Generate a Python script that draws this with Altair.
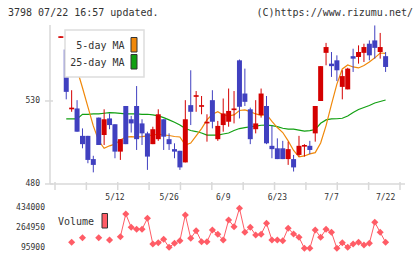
import altair as alt
import numpy as np
import pandas as pd

# Daily candles for code 3798, trading-day index 0..60
opens = [568, 561, 525, 525.5, 509, 509, 495, 520, 509.5, 519.5,
         516, 499.5, 527, 519, 527, 516.5, 510.5, 504, 507, 519,
         507, 501, 500, 493, 527.5, 532.5, 526.5, 516.5, 530.5, 507,
         515.5, 517.5, 524.5, 554.5, 534.5, 525, 513, 521.5, 527, 503,
         501.5, 501.5, 495, 495, 497.5, 502.5, 503, 510.5, 530, 559,
         552.5, 554.5, 538.5, 537, 557, 556.5, 559, 564.5, 566.5, 559.5,
         557]
highs = [569, 561, 536.5, 530.5, 513.5, 509, 497, 520, 525, 522.5,
         516, 507, 527, 521, 539, 519, 511.5, 514.5, 525, 519,
         510.5, 504.5, 500, 530.5, 548.5, 536, 533, 522, 536.5, 518,
         531.5, 537.5, 536, 555, 549.5, 526, 530.5, 537.5, 533, 515,
         507.5, 506, 505.5, 497.5, 509, 504, 506, 527, 551, 565,
         559.5, 557.5, 548.5, 550, 561.5, 563.5, 564.5, 566.5, 575.5, 571,
         559.5]
lows = [568, 531, 523.5, 511.5, 501.5, 492.5, 487, 503.5, 503.5, 513,
        495.5, 494.5, 504, 511, 500.5, 503.5, 488.5, 504, 506, 500.5,
        500.5, 495.5, 488.5, 493, 515.5, 523.5, 522, 505.5, 513.5, 506,
        511.5, 514.5, 516.5, 519.5, 527, 504, 510.5, 520, 504, 495.5,
        495, 495, 491.5, 487.5, 496.5, 496.5, 498, 505.5, 530, 551.5,
        544.5, 542, 531, 537, 547.5, 552.5, 553.5, 554.5, 555.5, 555.5,
        547.5]
closes = [569, 535.5, 526, 511.5, 504, 494.5, 491.5, 503.5, 519, 515.5,
          499.5, 507, 504, 516.5, 507, 510.5, 496.5, 513, 522, 508.5,
          504, 499.5, 490, 519, 523.5, 533.5, 527.5, 517.5, 517.5, 515,
          522.5, 524, 525.5, 526.5, 529.5, 507, 516.5, 534.5, 504.5, 501,
          495, 495, 501, 490, 503, 503.5, 500.5, 527, 551, 562.5,
          551, 548.5, 545, 549.5, 555.5, 559.5, 562.5, 557.5, 562, 562.5,
          550.5]

# Moving averages
ma5 = [None, 559.5, 557, 549, 538, 526.5, 515, 506, 501.5, 503,
       504, 506.5, 508.3, 508.5, 508.3, 508.5, 509, 509.5, 510, 509.5,
       509.2, 508.6, 508.3, 503.5, 504.7, 509, 513.4, 518.6, 522, 523.6,
       521.6, 521, 521.6, 524.3, 524.6, 523.6, 522.2, 521.3, 521.9, 517.7,
       514, 511, 506, 500.2, 496.3, 496.9, 498.1, 498.9, 504.7, 515.2,
       528, 540.2, 549.3, 551.7, 550.5, 549.9, 551.4, 553.5, 556, 558.9,
       558.7]
ma25 = [None, 519.2, 519.2, 519.2, 522, 522, 522.2, 522.2, 522.6, 523,
        522.8, 522.6, 522.3, 522.2, 522.2, 522, 522, 521.6, 521, 520,
        518.6, 517.2, 515.5, 513.4, 512.2, 511.6, 510.7, 509.5, 509.5, 509.5,
        510.1, 510.7, 512.2, 513.4, 514, 514.5, 514.9, 515.4, 515.5, 515.2,
        514.6, 513.6, 513.1, 513, 512.5, 511.9, 512.2, 512.8, 516.6, 518.6,
        519.2, 519.3, 519.6, 521, 523.1, 524.9, 526.1, 527.3, 528.8, 529.7,
        530.6]

# Volume (missing days left empty)
volume = [None, None, 146600, None, 185500, None, None, 185500, None, 166000,
          None, 194000, 385800, 273400, 256500, 256500, 349500, 132200, 143200, 172000,
          104400, 138200, 160100, 377400, 180400, 244700, 151700, 151700, 250600, 214200,
          166000, 335100, 278500, 434000, 231100, 273400, 208300, 214200, 307200, 166000,
          166000, 160100, 265000, 216800, 188900, 95900, 95900, 250600, 188900, 256500,
          231100, 95900, 143200, 104400, 132200, 146600, 123800, 138200, 315700, 231100,
          146600]

date_idx = [10, 20, 30, 40, 50, 60]
date_labels = ["5/12", "5/26", "6/9", "6/23", "7/7", "7/22"]
price_ticks = [480, 530]
vol_ticks = [434000, 264950, 95900]

title_left = "3798 07/22 16:57 updated."
title_right = "(C)https://www.rizumu.net/"

# ---- layout -------------------------------------------------------------
W, H = 355, 224
FONT = "DejaVu Sans Mono"
TXT = "#333333"
GRID = "#d9d9d9"
UP, DOWN = "#d40000", "#4040c0"
ORANGE, GREEN, VOLC = "#f0880a", "#12a012", "#ff5c66"

x_dom = [-1.077, 62.66]
price_dom = [440.84, 575.78]
vol_dom = [89983, 1983343]

xs = alt.Scale(domain=x_dom, nice=False, zero=False)
ps = alt.Scale(domain=price_dom, nice=False, zero=False)
vs = alt.Scale(domain=vol_dom, nice=False, zero=False)

n = len(opens)
df = pd.DataFrame({
    "i": np.arange(n), "open": opens, "high": highs, "low": lows, "close": closes,
    "ma5": ma5, "ma25": ma25, "vol": volume,
})
df["dir"] = np.where(df["close"] >= df["open"], "up", "down")

X = alt.X("i:Q", scale=xs, axis=None)
col = alt.Color("dir:N", scale=alt.Scale(domain=["up", "down"], range=[UP, DOWN]), legend=None)

ma5_line = alt.Chart(df).mark_line(color=ORANGE, strokeWidth=1.2).encode(
    x=X, y=alt.Y("ma5:Q", scale=ps, axis=None))
ma25_line = alt.Chart(df).mark_line(color=GREEN, strokeWidth=1.2).encode(
    x=X, y=alt.Y("ma25:Q", scale=ps, axis=None))

wicks = alt.Chart(df).mark_rule(strokeWidth=1).encode(
    x=X, y=alt.Y("low:Q", scale=ps, axis=None), y2="high:Q", color=col)
bodies = alt.Chart(df).mark_bar(size=5).encode(
    x=X, y=alt.Y("open:Q", scale=ps, axis=None), y2="close:Q", color=col)

vol_line = alt.Chart(df).mark_line(color=VOLC, strokeWidth=1,
                                   invalid="break-paths-show-domains").encode(
    x=X, y=alt.Y("vol:Q", scale=vs, axis=None))
vol_pts = alt.Chart(df).mark_point(shape="diamond", filled=True, size=50,
                                   color=VOLC, opacity=1).encode(
    x=X, y=alt.Y("vol:Q", scale=vs, axis=None))

# ---- axes -------------------------------------------------------------
ax_df = pd.DataFrame({"top": [price_dom[1]], "bottom": [price_ticks[0]]})
y_axis_line = alt.Chart(ax_df).mark_rule(color=GRID, strokeWidth=1.5).encode(
    x=alt.value(0), y=alt.Y("bottom:Q", scale=ps, axis=None), y2="top:Q")
x_axis_line = alt.Chart(ax_df).mark_rule(color=GRID, strokeWidth=1.5).encode(
    x=alt.value(0), x2=alt.value(W), y=alt.Y("bottom:Q", scale=ps, axis=None))

xtick_df = pd.DataFrame({"t": np.linspace(x_dom[0], x_dom[1], 12)})
x_ticks = alt.Chart(xtick_df).mark_rule(color=GRID, strokeWidth=1.5).encode(
    x=alt.X("t:Q", scale=xs, axis=None), y=alt.value(157), y2=alt.value(165))

ptick_df = pd.DataFrame({"p": price_ticks, "lab": [str(v) for v in price_ticks]})
p_ticks = alt.Chart(ptick_df).mark_rule(color=GRID, strokeWidth=1.5).encode(
    x=alt.value(-5), x2=alt.value(3), y=alt.Y("p:Q", scale=ps, axis=None))
p_labels = alt.Chart(ptick_df).mark_text(font=FONT, fontSize=8, color=TXT,
                                         align="right", baseline="middle").encode(
    x=alt.value(-10), y=alt.Y("p:Q", scale=ps, axis=None), text="lab:N")

vtick_df = pd.DataFrame({"v": vol_ticks, "lab": [str(v) for v in vol_ticks]})
v_labels = alt.Chart(vtick_df).mark_text(font=FONT, fontSize=8, color=TXT,
                                         align="right", baseline="middle").encode(
    x=alt.value(-5), y=alt.Y("v:Q", scale=vs, axis=None), text="lab:N")

date_df = pd.DataFrame({"i": date_idx, "lab": date_labels})
d_labels = alt.Chart(date_df).mark_text(font=FONT, fontSize=8, color=TXT,
                                        baseline="middle").encode(
    x=alt.X("i:Q", scale=xs, axis=None), y=alt.value(173), text="lab:N")

# ---- legends and header ------------------------------------------------
one = pd.DataFrame({"k": [0]})
leg_box = alt.Chart(one).mark_rect(fill="white", stroke="#dddddd", strokeWidth=1.5).encode(
    x=alt.value(15), x2=alt.value(94), y=alt.value(5), y2=alt.value(52))
leg_sw5 = alt.Chart(one).mark_rect(fill=ORANGE, stroke="#333333", strokeWidth=1).encode(
    x=alt.value(81), x2=alt.value(87), y=alt.value(12.5), y2=alt.value(27))
leg_sw25 = alt.Chart(one).mark_rect(fill=GREEN, stroke="#333333", strokeWidth=1).encode(
    x=alt.value(81), x2=alt.value(87), y=alt.value(29.5), y2=alt.value(44))
leg_t5 = alt.Chart(one).mark_text(text="5-day MA", font=FONT, fontSize=10, color=TXT,
                                  align="right", baseline="middle").encode(
    x=alt.value(74.5), y=alt.value(21))
leg_t25 = alt.Chart(one).mark_text(text="25-day MA", font=FONT, fontSize=10, color=TXT,
                                   align="right", baseline="middle").encode(
    x=alt.value(74.5), y=alt.value(37.5))

vleg_t = alt.Chart(one).mark_text(text="Volume", font=FONT, fontSize=10, color=TXT,
                                  align="left", baseline="middle").encode(
    x=alt.value(8), y=alt.value(197))
vleg_sw = alt.Chart(one).mark_rect(fill=VOLC, stroke="#333333", strokeWidth=1).encode(
    x=alt.value(52), x2=alt.value(57.5), y=alt.value(188.5), y2=alt.value(203))

head_l = alt.Chart(one).mark_text(text=title_left, font=FONT, fontSize=10, color=TXT,
                                  align="left", baseline="middle").encode(
    x=alt.value(-42), y=alt.value(-12))
head_r = alt.Chart(one).mark_text(text=title_right, font=FONT, fontSize=10, color=TXT,
                                  align="right", baseline="middle").encode(
    x=alt.value(363), y=alt.value(-12))

chart = alt.layer(
    y_axis_line, x_axis_line, x_ticks, p_ticks, p_labels, v_labels, d_labels,
    ma25_line, ma5_line, wicks, bodies, vol_line, vol_pts,
    leg_box, leg_sw5, leg_sw25, leg_t5, leg_t25, vleg_t, vleg_sw, head_l, head_r,
).resolve_scale(y="independent").properties(
    width=W, height=H,
    autosize=alt.AutoSizeParams(type="none"),
    padding={"left": 50, "top": 25, "right": 15, "bottom": 10},
    background="white",
).configure_view(stroke=None)

chart.save("out.html", embed_options={"renderer": "svg", "actions": False})
